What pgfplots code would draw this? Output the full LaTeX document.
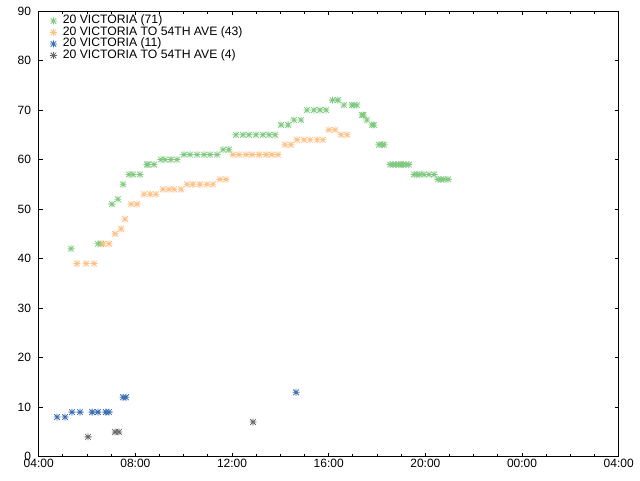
\documentclass[border=0pt]{standalone}
\usepackage{pgfplots}
\pgfplotsset{compat=1.18}
\usepackage{fontspec}
\setmainfont{Liberation Sans}
\definecolor{cgreen}{HTML}{7FC97F}
\definecolor{corange}{HTML}{FDC086}
\definecolor{cblue}{HTML}{386CB0}
\definecolor{cgray}{HTML}{666666}
\pgfdeclareplotmark{ast8}{%
  \pgfpathmoveto{\pgfqpoint{-\pgfplotmarksize}{0pt}}\pgfpathlineto{\pgfqpoint{\pgfplotmarksize}{0pt}}%
  \pgfpathmoveto{\pgfqpoint{0pt}{-\pgfplotmarksize}}\pgfpathlineto{\pgfqpoint{0pt}{\pgfplotmarksize}}%
  \pgfpathmoveto{\pgfqpoint{-0.8\pgfplotmarksize}{-0.8\pgfplotmarksize}}\pgfpathlineto{\pgfqpoint{0.8\pgfplotmarksize}{0.8\pgfplotmarksize}}%
  \pgfpathmoveto{\pgfqpoint{-0.8\pgfplotmarksize}{0.8\pgfplotmarksize}}\pgfpathlineto{\pgfqpoint{0.8\pgfplotmarksize}{-0.8\pgfplotmarksize}}%
  \pgfusepathqstroke}
\begin{document}
\begin{tikzpicture}[x=1pt,y=1pt]
\path[use as bounding box] (0,0) rectangle (640,480);
\begin{axis}[
  at={(38.7pt,23.3pt)}, anchor=south west,
  scale only axis, width=580pt, height=445.7pt,
  xmin=4, xmax=28, ymin=0, ymax=90,
  xtick={4,8,12,16,20,24,28},
  xticklabels={04:00,08:00,12:00,16:00,20:00,00:00,04:00},
  minor x tick num=3,
  ytick={0,10,...,90},
  tick align=inside,
  major tick length=4pt, minor tick length=3pt,
  every tick/.style={black, line width=0.8pt},
  axis line style={black, line width=0.8pt},
  tick label style={font=\fontsize{12}{12}\selectfont},
  /pgf/number format/assume math mode=true,
  xticklabel style={inner sep=2.3pt},
  yticklabel style={inner sep=0pt, xshift=-7.5pt},
  legend style={at={(0,1)}, anchor=north west, xshift=11pt, yshift=-4pt,
    draw=none, fill=none, inner sep=0pt, row sep=0pt, column sep=6pt,
    font=\fontsize{12.2}{12}\selectfont,
    nodes={inner sep=0pt, text height=8.6pt, text depth=2.9pt, anchor=west}},
  legend cell align=left,
  legend image code/.code={\draw[#1] plot coordinates {(0pt,0pt)};},
  every axis plot/.append style={only marks, mark=ast8, mark size=3.5pt, line width=0.8pt},
]
\addplot[cgreen] coordinates {
(5.34,42) (6.45,43) (6.58,43) (7.03,51) (7.28,52) (7.49,55)
(7.74,57) (7.90,57) (8.19,57)
(8.48,59) (8.52,59) (8.77,59)
(9.06,60) (9.23,60) (9.47,60) (9.72,60)
(10.01,61) (10.26,61) (10.55,61) (10.84,61) (11.09,61) (11.38,61)
(11.63,62) (11.87,62)
(12.16,65) (12.45,65) (12.70,65) (12.99,65) (13.28,65) (13.53,65) (13.78,65)
(14.03,67) (14.32,67)
(14.56,68) (14.85,68)
(15.10,70) (15.39,70) (15.64,70) (15.89,70)
(16.16,72) (16.38,72)
(16.63,71) (16.96,71) (17.05,71) (17.17,71)
(17.38,69) (17.44,69)
(17.58,68)
(17.79,67) (17.87,67)
(18.08,63) (18.21,63) (18.29,63)
(18.54,59) (18.66,59) (18.78,59) (18.91,59) (18.99,59) (19.07,59) (19.20,59) (19.32,59)
(19.53,57) (19.65,57) (19.78,57) (19.94,57) (20.15,57) (20.36,57)
(20.52,56) (20.65,56) (20.77,56) (20.94,56)
};
\addlegendentry{20 VICTORIA (71)}
\addplot[corange] coordinates {
(5.58,39) (5.96,39) (6.29,39)
(6.66,43) (6.91,43)
(7.16,45) (7.41,46) (7.57,48)
(7.82,51) (8.07,51)
(8.36,53) (8.61,53) (8.85,53)
(9.14,54) (9.39,54) (9.60,54) (9.89,54)
(10.14,55) (10.38,55) (10.67,55) (10.96,55) (11.21,55)
(11.50,56) (11.75,56)
(12.04,61) (12.29,61) (12.58,61) (12.83,61) (13.12,61) (13.41,61) (13.65,61) (13.90,61)
(14.19,63) (14.44,63)
(14.69,64) (14.98,64) (15.23,64) (15.52,64) (15.76,64)
(16.01,66) (16.26,66)
(16.51,65) (16.76,65)
};
\addlegendentry{20 VICTORIA TO 54TH AVE (43)}
\addplot[cblue] coordinates {
(4.76,8) (5.09,8)
(5.38,9) (5.71,9) (6.21,9) (6.45,9) (6.78,9) (6.91,9)
(7.49,12) (7.61,12)
(14.65,13)
};
\addlegendentry{20 VICTORIA (11)}
\addplot[cgray] coordinates {
(6.04,4) (7.16,5) (7.32,5) (12.87,7)
};
\addlegendentry{20 VICTORIA TO 54TH AVE (4)}
\end{axis}
\end{tikzpicture}
\end{document}
